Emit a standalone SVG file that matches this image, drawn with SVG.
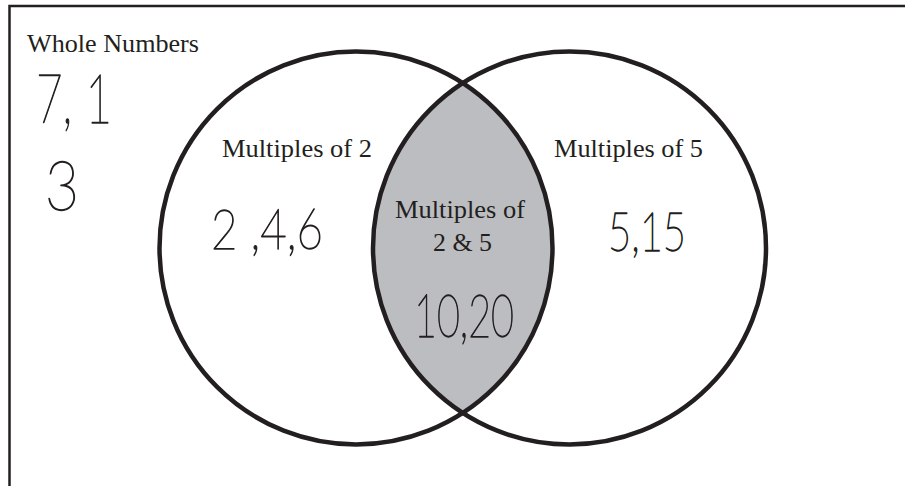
<svg xmlns="http://www.w3.org/2000/svg" width="905" height="486" viewBox="0 0 905 486">
  <style>
    .print { font-family: "Liberation Serif", "Times New Roman", serif; font-size: 26px; fill: #231F20; }
    .hand { font-family: "Lato", "Open Sans", sans-serif; font-weight: 200; fill: #231F20; stroke: #231F20; stroke-width: 1.3; stroke-linejoin: round; }
    .ring { fill: none; stroke: #231F20; stroke-width: 4.5; }
  </style>
  <rect x="0" y="0" width="905" height="486" fill="#ffffff"/>
  <g id="universe">
    <path d="M9.5,486 V6 H905" fill="none" stroke="#231F20" stroke-width="2.5"/>
    <text class="print" x="27" y="52" textLength="172" lengthAdjust="spacingAndGlyphs">Whole Numbers</text>
    <text class="hand" x="36" y="123" font-size="68" textLength="76" lengthAdjust="spacingAndGlyphs">7, 1</text>
    <text class="hand" x="45" y="210" font-size="68" textLength="34" lengthAdjust="spacingAndGlyphs">3</text>
  </g>
  <g id="intersection">
    <path d="M462.75,83.03 A196.5,196.5 0 0 1 462.75,412.97 A196.5,196.5 0 0 1 462.75,83.03 Z" fill="#BCBDC0"/>
  </g>
  <g id="set-2">
    <circle class="ring" cx="356" cy="248" r="196.5"/>
    <text class="print" x="222" y="157" textLength="150" lengthAdjust="spacingAndGlyphs">Multiples of 2</text>
    <text class="hand" x="211" y="249" font-size="55" textLength="112" lengthAdjust="spacingAndGlyphs">2 ,4,6</text>
  </g>
  <g id="set-5">
    <circle class="ring" cx="569.5" cy="248" r="196.5"/>
    <text class="print" x="554" y="157" textLength="149" lengthAdjust="spacingAndGlyphs">Multiples of 5</text>
    <text class="hand" x="608" y="251" font-size="54" textLength="78" lengthAdjust="spacingAndGlyphs">5,15</text>
  </g>
  <g id="intersection-labels">
    <text class="print" x="395" y="218" textLength="130" lengthAdjust="spacingAndGlyphs">Multiples of</text>
    <text class="print" x="433" y="251" textLength="59" lengthAdjust="spacingAndGlyphs">2 &amp; 5</text>
    <text class="hand" x="414" y="337" font-size="60" textLength="100" lengthAdjust="spacingAndGlyphs">10,20</text>
  </g>
</svg>
